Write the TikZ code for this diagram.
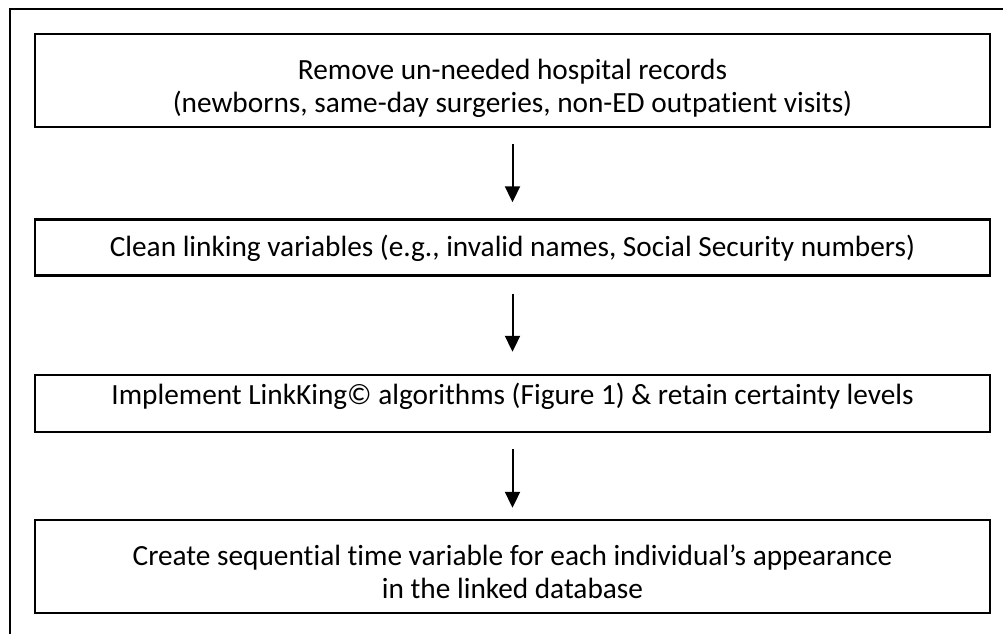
\documentclass[tikz,border=0pt]{standalone}
\usepackage{fontspec}
\setmainfont{Carlito}[Ligatures=NoCommon]
\usetikzlibrary{arrows.meta}
\tikzset{
  stepbox/.style={draw=black, line width=2.4pt, minimum width=955pt, inner sep=0pt},
  steptext/.style={align=center, font=\fontsize{29.3}{33}\selectfont, inner sep=0pt},
  flow/.style={line width=2pt, -{Triangle[length=16pt,width=15pt]}},
}
\begin{document}
\begin{tikzpicture}[x=1pt,y=-1pt]
  \useasboundingbox (0,0) rectangle (1003,634);
  % outer frame (only the top and left edges fall inside the page)
  \draw[line width=2pt] (9.5,634) -- (9.5,9) -- (1003,9);

  % step boxes
  \node[stepbox, minimum height=93pt]  (b1) at (512.5,80.5)  {};
  \node[stepbox, minimum height=56pt]  (b2) at (512.5,247.5) {};
  \node[stepbox, minimum height=57pt]  (b3) at (512.5,403.5) {};
  \node[stepbox, minimum height=93pt]  (b4) at (512.5,566.5) {};

  % step texts
  \node[steptext] (t1) at (512.5,88) {Remove un-needed hospital records\\(newborns, same-day surgeries, non-ED outpatient visits)};
  \node[steptext] (t2) at (512.5,248) {Clean linking variables (e.g., invalid names, Social Security numbers)};
  \node[steptext] (t3) at (512.5,396) {Implement LinkKing© algorithms (Figure 1) \& retain certainty levels};
  \node[steptext] (t4) at (512.5,572) {Create sequential time variable for each individual’s appearance\\in the linked database};

  % connectors
  \draw[flow, shorten <=16pt, shorten >=16pt] (b1) -- (b2);
  \draw[flow, shorten <=17pt, shorten >=22pt] (b2) -- (b3);
  \draw[flow, shorten <=16pt, shorten >=11pt] (b3) -- (b4);
\end{tikzpicture}
\end{document}
